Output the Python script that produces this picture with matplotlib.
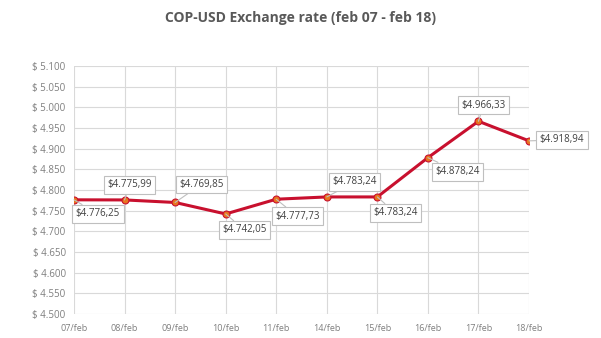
import matplotlib.pyplot as plt
from matplotlib.ticker import FuncFormatter

plt.rcParams['font.family'] = ['Open Sans', 'DejaVu Sans']

dates = ["07/feb", "08/feb", "09/feb", "10/feb", "11/feb",
         "14/feb", "15/feb", "16/feb", "17/feb", "18/feb"]
rates = [4776.25, 4775.99, 4769.85, 4742.05, 4777.73,
         4783.24, 4783.24, 4878.24, 4966.33, 4918.94]

# where each callout box sits relative to its point (pixels)
label_offsets = [(24, -14), (5, 15), (26, 18), (19, -16), (21, -17),
                 (28, 15), (18, -16), (30, -14), (5, 16), (33, 1)]


def money(v):
    return "{:,.2f}".format(v).replace(",", "X").replace(".", ",").replace("X", ".")


fig = plt.figure(figsize=(6.01, 3.38), dpi=100)
ax = fig.add_axes([0.1231, 0.071, 0.7571, 0.7337])

x = list(range(len(dates)))
ax.plot(x, rates, color="#C8102E", lw=2.2, marker="o", ms=5,
        mfc="#E8741E", mec="#C8102E", mew=0.8, zorder=3, solid_capstyle="round")

for xi, v, (dx, dy) in zip(x, rates, label_offsets):
    ax.annotate("$" + money(v), (xi, v), xytext=(dx, dy), textcoords="offset pixels",
                ha="center", va="center", fontsize=7, color="#404040",
                bbox=dict(boxstyle="square,pad=0.35", fc="white", ec="#BFBFBF", lw=0.8),
                arrowprops=dict(arrowstyle="-", color="#BFBFBF", lw=0.8,
                                shrinkA=0, shrinkB=0),
                zorder=4)

ax.set_xlim(0, len(dates) - 1)
ax.set_ylim(4500, 5100)
ax.set_yticks(range(4500, 5101, 50))
ax.yaxis.set_major_formatter(FuncFormatter(lambda v, p: "$ " + "{:,.0f}".format(v).replace(",", ".")))
ax.set_xticks(x)
ax.set_xticklabels(dates)

ax.grid(True, color="#D9D9D9", lw=0.8)
ax.set_axisbelow(True)
for s in ax.spines.values():
    s.set_visible(False)
ax.tick_params(length=0, labelsize=7, colors="#7F7F7F", pad=6)
ax.tick_params(axis="x", labelsize=6.5, pad=7)

fig.text(0.5, 0.947, "COP-USD Exchange rate (feb 07 - feb 18)", ha="center", va="center",
         fontsize=10, fontweight="bold", color="#595959")

fig.savefig("out.png", dpi=100, facecolor="white")
